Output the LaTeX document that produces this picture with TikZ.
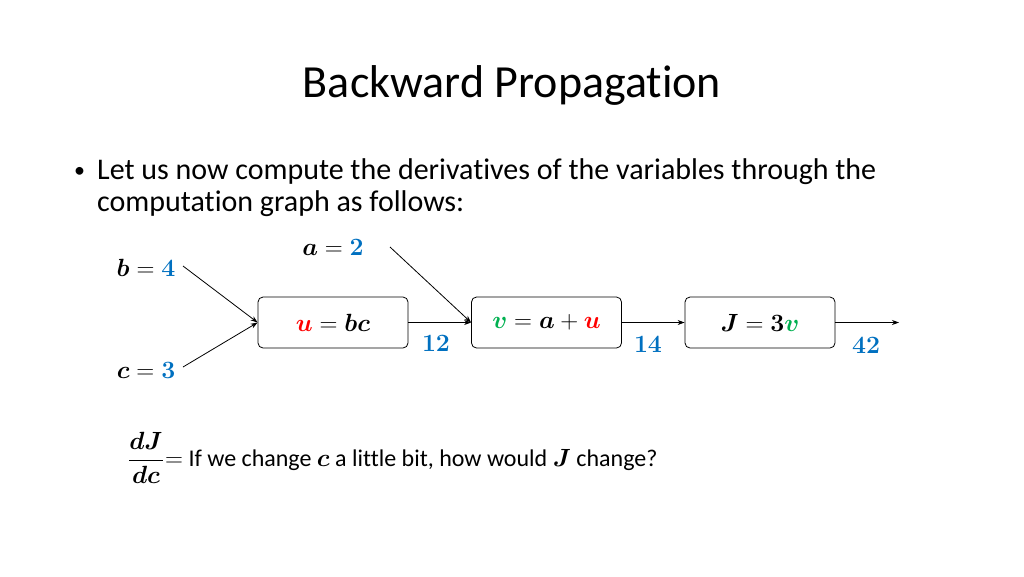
\documentclass[tikz,border=0pt]{standalone}
\usepackage{amsmath,bm}
\usepackage{fontspec}
\setmainfont[Ligatures=NoCommon]{Carlito}
\usetikzlibrary{arrows.meta}
\definecolor{vblue}{RGB}{0,112,192}
\definecolor{vred}{RGB}{255,0,0}
\definecolor{vgreen}{RGB}{0,176,80}
\newcommand{\cb}[2]{{\color{#1}\bm{#2}}}
\tikzset{opbox/.style={draw,line width=0.8pt,rounded corners=5pt,minimum width=150pt,minimum height=51pt,inner sep=0pt,font=\fontsize{23}{27}\selectfont},
 lbl/.style={font=\fontsize{23}{27}\selectfont,inner sep=1pt},
 conn/.style={-{Stealth[length=7pt,width=5pt]},line width=0.8pt}}
\begin{document}
\begin{tikzpicture}[x=1pt,y=-1pt]
\useasboundingbox (0,0) rectangle (1024,576);
\node[font=\fontsize{46}{52}\selectfont] (title) at (512,85) {Backward Propagation};
\node[anchor=west,font=\fontsize{22}{30}\selectfont,inner sep=0pt] (b1) at (74,172) {•};
\node[anchor=west,font=\fontsize{30}{32}\selectfont,align=left,inner sep=0pt] (t1) at (97,188) {Let us now compute the derivatives of the variables through the\\computation graph as follows:};
\node[opbox] (u) at (333,322.5) {$\cb{vred}{u}=\bm{bc}$};
\node[opbox] (v) at (546.5,322.5) {$\cb{vgreen}{v}=\bm{a}+\cb{vred}{u}$};
\node[opbox] (J) at (760,322.5) {$\bm{J}=\bm{3}\cb{vgreen}{v}$};
\node[lbl] (a) at (333,247) {$\bm{a}=\cb{vblue}{2}$};
\node[lbl] (b) at (146,268) {$\bm{b}=\cb{vblue}{4}$};
\node[lbl] (c) at (146,370) {$\bm{c}=\cb{vblue}{3}$};
\coordinate (bs) at (183,266);
\coordinate (cs) at (183,367);
\coordinate (as) at (390,247);
\coordinate (out) at (899,322.5);
\draw[conn] (bs) -- (u.west);
\draw[conn] (cs) -- (u.west);
\draw[conn] (as) -- (v.west);
\draw[conn] (u.east) -- (v.west);
\draw[conn] (v.east) -- (J.west);
\draw[conn] (J.east) -- (out);
\node[lbl] (n12) at (436,343) {$\cb{vblue}{12}$};
\node[lbl] (n14) at (648,344) {$\cb{vblue}{14}$};
\node[lbl] (n42) at (866,345) {$\cb{vblue}{42}$};
\node[lbl] (frac) at (146,458) {$\dfrac{\bm{dJ}}{\bm{dc}}$};
\node[anchor=west,font=\fontsize{24}{28}\selectfont,inner sep=0pt] (q) at (165,460) {$=$ If we change $\bm{c}$ a little bit, how would $\bm{J}$ change?};
\end{tikzpicture}
\end{document}
